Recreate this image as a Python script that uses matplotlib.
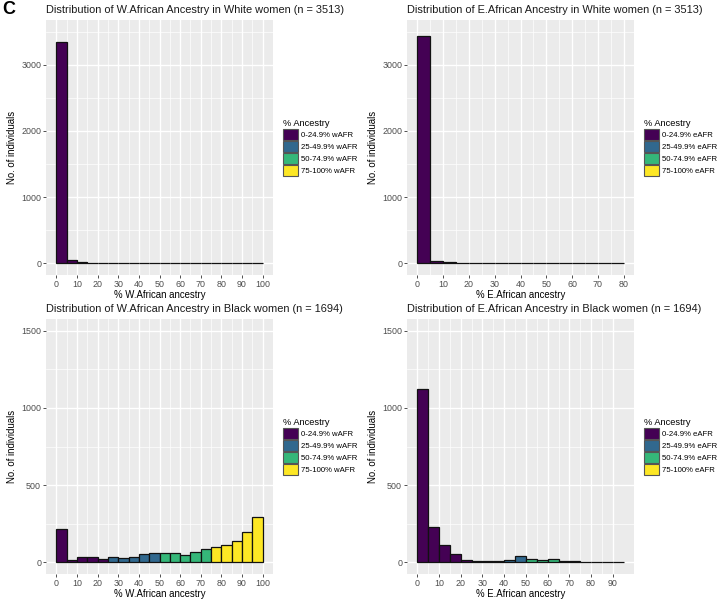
import numpy as np
import matplotlib
matplotlib.use("Agg")
import matplotlib.pyplot as plt
from matplotlib.patches import Patch

plt.rcParams["font.family"] = ["Liberation Sans", "DejaVu Sans"]

# Counts per 5%-wide bin, starting at 0
waf_white = [3340, 50, 20, 5, 12, 3, 6, 3, 4, 3, 4, 3, 3, 4, 5, 10, 10, 10, 8, 10]
eaf_white = [3434, 30, 15, 10, 3, 3, 1, 1, 1, 5, 1, 5, 1, 1, 1, 1]
waf_black = [215, 15, 32, 32, 24, 37, 30, 37, 56, 60, 58, 62, 45, 65, 88, 97, 114, 140, 196, 291]
eaf_black = [1120, 226, 114, 52, 17, 9, 9, 9, 15, 41, 19, 15, 19, 6, 11, 3, 5, 2, 2]

titles = [
    "Distribution of W.African Ancestry in White women (n = 3513)",
    "Distribution of E.African Ancestry in White women (n = 3513)",
    "Distribution of W.African Ancestry in Black women (n = 1694)",
    "Distribution of E.African Ancestry in Black women (n = 1694)",
]
xlabels = ["% W.African ancestry", "% E.African ancestry",
           "% W.African ancestry", "% E.African ancestry"]
legend_w = ["0-24.9% wAFR", "25-49.9% wAFR", "50-74.9% wAFR", "75-100% wAFR"]
legend_e = ["0-24.9% eAFR", "25-49.9% eAFR", "50-74.9% eAFR", "75-100% eAFR"]
viridis4 = ["#440154", "#31688E", "#35B779", "#FDE725"]

BIN = 5


def draw_panel(ax, counts, title, xlabel, labels, ymax, ybreak):
    counts = np.array(counts)
    starts = np.arange(len(counts)) * BIN
    cols = [viridis4[min(int(s // 25), 3)] for s in starts]
    ax.set_facecolor("#EBEBEB")
    xmax = starts[-1] + BIN
    ax.set_xlim(-0.05 * xmax, 1.05 * xmax)
    ax.set_ylim(-0.05 * ymax, 1.05 * ymax)
    ax.set_xticks(np.arange(0, xmax + 1, 10))
    ax.set_xticks(np.arange(5, xmax, 10), minor=True)
    ax.set_yticks(np.arange(0, ymax + 1, ybreak))
    ax.set_yticks(np.arange(ybreak / 2, ymax * 1.05, ybreak), minor=True)
    ax.grid(which="major", color="white", linewidth=1.0)
    ax.grid(which="minor", color="white", linewidth=0.5)
    ax.set_axisbelow(True)
    ax.bar(starts, counts, width=BIN, align="edge", color=cols,
           edgecolor="#111111", linewidth=0.9, zorder=3)
    for s in ax.spines.values():
        s.set_visible(False)
    ax.tick_params(which="major", length=2.5, width=0.6, color="#333333",
                   labelsize=6.4, labelcolor="#4D4D4D", pad=1.0)
    ax.tick_params(which="minor", length=0)
    ax.set_title(title, loc="left", fontsize=7.95, color="#1a1a1a", pad=5)
    ax.set_xlabel(xlabel, fontsize=6.9, labelpad=0.5)
    ax.set_ylabel("No. of individuals", fontsize=6.9, labelpad=3)
    handles = [Patch(facecolor=c, edgecolor="#555555", linewidth=0.8) for c in viridis4]
    leg = ax.legend(handles, labels, title="% Ancestry", loc="center left",
                    bbox_to_anchor=(1.03, 0.5), frameon=False, fontsize=5.6,
                    title_fontsize=6.7, handlelength=1.9, handleheight=1.85,
                    labelspacing=0.1, handletextpad=0.45, borderaxespad=0)
    leg._legend_box.align = "left"


fig = plt.figure(figsize=(7.22, 6.0), dpi=100)
W, H = 722.0, 600.0
positions = [(46, 20), (407, 20), (46, 319), (407, 319)]
pw, ph = 227, 255
axes = [fig.add_axes([x / W, 1 - (y + ph) / H, pw / W, ph / H]) for x, y in positions]

draw_panel(axes[0], waf_white, titles[0], xlabels[0], legend_w, 3500, 1000)
draw_panel(axes[1], eaf_white, titles[1], xlabels[1], legend_e, 3500, 1000)
draw_panel(axes[2], waf_black, titles[2], xlabels[2], legend_w, 1500, 500)
draw_panel(axes[3], eaf_black, titles[3], xlabels[3], legend_e, 1500, 500)

fig.text(2 / W, 1 - 1 / H, "C", fontsize=13, fontweight="bold", va="top", ha="left")

fig.savefig("out.png", dpi=100, facecolor="white")
plt.close(fig)
